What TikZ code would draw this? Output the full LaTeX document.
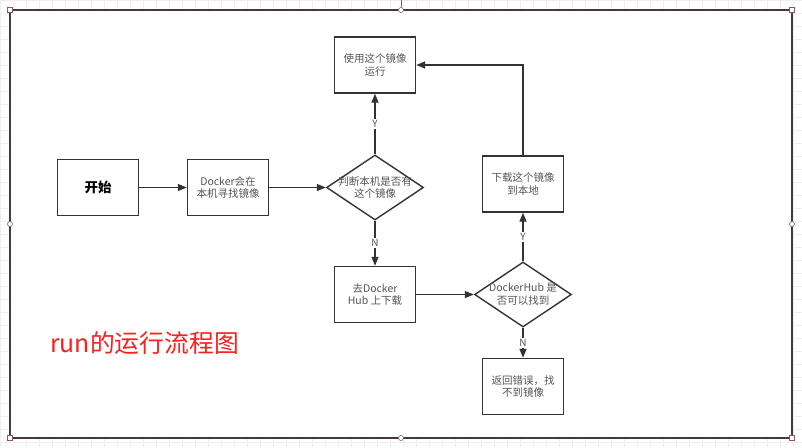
\documentclass[tikz,border=0pt]{standalone}
\usepackage{fontspec}
\setmainfont{Noto Sans CJK SC}
\usetikzlibrary{shapes.geometric,arrows.meta}
\definecolor{ln}{HTML}{333333}
\definecolor{tx}{HTML}{555555}
\definecolor{frm}{HTML}{4A3838}
\definecolor{hdl}{HTML}{8A5A5A}
\definecolor{gridc}{HTML}{EFEFEF}
\tikzset{
  box/.style={draw=ln, line width=1.4pt, fill=white, minimum width=81pt, minimum height=56pt, inner sep=0pt, align=center, text=tx, font=\fontsize{10.5}{12.5}\selectfont},
  dia/.style={draw=ln, line width=1.4pt, fill=white, diamond, minimum width=97pt, minimum height=65pt, aspect=1.49, inner sep=0pt},
  txt/.style={align=center, text=tx, font=\fontsize{10.5}{12.5}\selectfont, inner sep=0pt},
  conn/.style={draw=ln, line width=1.4pt, -{Triangle[length=9pt,width=7pt]}},
  yn/.style={fill=white, text=tx, font=\fontsize{10}{11}\selectfont, inner sep=1.2pt},
  hsq/.style={draw=hdl, fill=white, line width=0.6pt, minimum size=4.5pt, inner sep=0pt, rectangle},
  hci/.style={draw=hdl, fill=white, line width=0.6pt, minimum size=5pt, inner sep=0pt, circle}
}
\begin{document}
\begin{tikzpicture}[x=1pt,y=-1pt]
\useasboundingbox (0,0) rectangle (802,447);
\fill[white] (0,0) rectangle (802,447);
\foreach \i in {0,...,62} {\draw[gridc, line width=0.5pt] (\i*13,0) -- (\i*13,447);}
\foreach \j in {0,...,35} {\draw[gridc, line width=0.5pt] (0,\j*13) -- (802,\j*13);}
% frame
\draw[frm, line width=1.5pt, fill=white] (10,10) rectangle (792,438);
\coordinate (rot) at (401,0);
\node[hci] (tm) at (401,10) {};
\draw[hdl, line width=0.6pt] (rot) -- (tm.north);
\node[hsq] (tl) at (10,10) {};
\node[hsq] (tr) at (792,10) {};
\node[hsq] (bl) at (10,438) {};
\node[hsq] (br) at (792,438) {};
\node[hci] (lm) at (10,224) {};
\node[hci] (rm) at (792,224) {};
\node[hci] (bm) at (401,438) {};
% nodes
\node[box, font=\bfseries\fontsize{13.5}{15}\selectfont, text=black] (start) at (98,187.5) {开始};
\node[box] (look) at (228,187.5) {Docker会在\\本机寻找镜像};
\node[dia, label={[txt]center:{判断本机是否有\\这个镜像}}] (d1) at (375,187.5) {};
\node[box] (use) at (375,65) {使用这个镜像\\运行};
\node[box] (go) at (375,294.5) {去Docker\\Hub 上下载};
\node[dia, label={[txt]center:{DockerHub 是\\否可以找到}}] (d2) at (523,294.5) {};
\node[box] (dl) at (523,184) {下载这个镜像\\到本地};
\node[box] (ret) at (523,386.5) {返回错误，找\\不到镜像};
\node[text={rgb,255:red,255;green,30;blue,30}, font=\fontsize{24.8}{27}\selectfont, anchor=west, inner sep=0pt] (title) at (50,343) {run的运行流程图};
% connectors
\draw[conn] (start.east) -- (look.west);
\draw[conn] (look.east) -- (d1.west);
\draw[conn] (d1.north) -- node[yn] {Y} (use.south);
\draw[conn] (d1.south) -- node[yn, pos=0.5] {N} (go.north);
\draw[conn] (go.east) -- (d2.west);
\draw[conn] (d2.north) -- node[yn] {Y} (dl.south);
\draw[conn] (d2.south) -- node[yn] {N} (ret.north);
\draw[conn] (dl.north) |- (use.east);
\end{tikzpicture}
\end{document}
